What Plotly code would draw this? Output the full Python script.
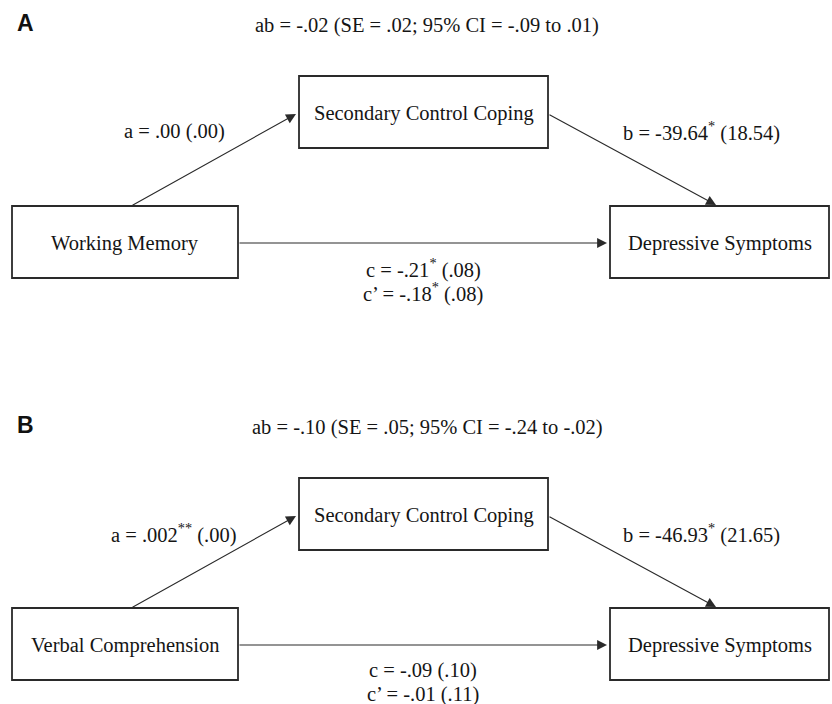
import plotly.graph_objects as go

# ---- data (text content of the two mediation models) ----
panel_letters = ["A", "B"]
predictors = ["Working Memory", "Verbal Comprehension"]
mediator = "Secondary Control Coping"
outcome = "Depressive Symptoms"
indirect_effects = [
    "ab = -.02 (SE = .02; 95% CI = -.09 to .01)",
    "ab = -.10 (SE = .05; 95% CI = -.24 to -.02)",
]
a_paths = ["a = .00 (.00)", "a = .002<sup>**</sup> (.00)"]
b_paths = ["b = -39.64<sup>*</sup> (18.54)", "b = -46.93<sup>*</sup> (21.65)"]
c_paths = ["c = -.21<sup>*</sup> (.08)", "c = -.09 (.10)"]
cprime_paths = ["c\u2019 = -.18<sup>*</sup> (.08)", "c\u2019 = -.01 (.11)"]

W, H = 832, 704
panel_offsets = [0, 402]

FONT = "Liberation Serif, Times New Roman, serif"
FS = 20.5
TXT = "#151515"
LINE = "#2a2a2a"

fig = go.Figure()
fig.add_trace(go.Scatter(x=[0, W], y=[0, H], mode="markers",
                         marker=dict(opacity=0), hoverinfo="skip", showlegend=False))

shapes = []
annotations = []

for i in range(2):
    dy = panel_offsets[i]
    # boxes: mediator, predictor, outcome
    boxes = [
        (299, 76 + dy, 548, 148 + dy, mediator),
        (12, 206 + dy, 238, 278 + dy, predictors[i]),
        (610, 206 + dy, 829, 278 + dy, outcome),
    ]
    for (x0, y0, x1, y1, label) in boxes:
        shapes.append(dict(type="rect", xref="x", yref="y", x0=x0, y0=y0, x1=x1, y1=y1,
                           line=dict(color=LINE, width=1.8), fillcolor="rgba(0,0,0,0)"))
        annotations.append(dict(x=(x0 + x1) / 2, y=(y0 + y1) / 2 + 1, xref="x", yref="y",
                                text=label, showarrow=False,
                                font=dict(family=FONT, size=FS, color=TXT)))
    # arrows
    arrows = [
        (131, 206 + dy, 296, 114 + dy),   # a path
        (548, 114 + dy, 716, 205 + dy),   # b path
        (238, 243 + dy, 607, 243 + dy),   # c path
    ]
    for (x0, y0, x1, y1) in arrows:
        annotations.append(dict(x=x1, y=y1, ax=x0, ay=y0, xref="x", yref="y",
                                axref="x", ayref="y", text="", showarrow=True,
                                arrowhead=2, arrowsize=1.8, arrowwidth=1.1,
                                arrowcolor=LINE, standoff=0, startstandoff=0))
    # panel letter
    annotations.append(dict(x=25, y=23 + dy, xref="x", yref="y", text="<b>%s</b>" % panel_letters[i],
                            showarrow=False, font=dict(family="Liberation Sans, Arial, sans-serif",
                                                       size=23, color="#111111")))
    # path labels
    labels = [
        (427, 25 + dy, indirect_effects[i]),
        (174, 131 + dy, a_paths[i]),
        (701, 131 + dy, b_paths[i]),
        (423, 268 + dy, c_paths[i]),
        (423, 292 + dy, cprime_paths[i]),
    ]
    for (x, y, t) in labels:
        annotations.append(dict(x=x, y=y, xref="x", yref="y", text=t, showarrow=False,
                                font=dict(family=FONT, size=FS, color=TXT)))

fig.update_layout(
    width=W, height=H,
    margin=dict(l=0, r=0, t=0, b=0),
    paper_bgcolor="white", plot_bgcolor="white",
    xaxis=dict(range=[0, W], visible=False, fixedrange=True),
    yaxis=dict(range=[H, 0], visible=False, fixedrange=True),
    shapes=shapes, annotations=annotations, showlegend=False,
)

fig.write_html("out.html", config={"displayModeBar": False, "staticPlot": True},
               post_script="document.body.style.margin='0';document.body.style.overflow='hidden';")
